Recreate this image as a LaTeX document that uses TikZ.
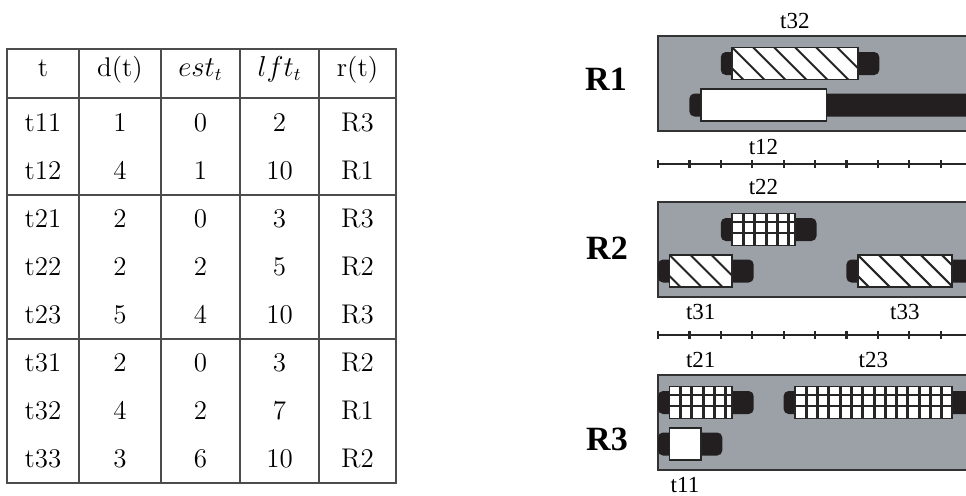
\documentclass[tikz,border=0pt]{standalone}
\usepackage{fontspec}
\newfontfamily\timesfont{Liberation Serif}
\usetikzlibrary{calc}

\definecolor{lanegray}{RGB}{155,161,167}
\definecolor{barblack}{RGB}{35,31,32}

% time axis: origin and width of one time unit
\newcommand{\tzero}{658}
\newcommand{\tunit}{31.4}

% task bar: #1 name, #2 lane top, #3 est, #4 lft, #5 d(t), #6 fill style
\newcommand{\taskbar}[6]{%
  \pgfmathsetmacro{\tbstart}{\tzero+#3*\tunit}
  \pgfmathsetmacro{\tbend}{\tzero+#4*\tunit+1.5}
  \pgfmathsetmacro{\tbbox}{\tbstart+10.5}
  \pgfmathsetmacro{\tbwid}{#5*\tunit*0.5}
  \fill[barblack, rounded corners=2.5pt] (\tbstart,#2+5.5) rectangle (\tbend,#2+28.5);
  \node[taskbox, #6, minimum width=\tbwid pt] (#1) at (\tbbox,#2) {};
}

\begin{document}
\begin{tikzpicture}[x=0.5pt, y=-0.5pt,
    tabline/.style={draw=black!70, line width=0.65pt},
    cell/.style={anchor=base, inner sep=0pt, font=\fontsize{13.5}{16}\selectfont},
    rlab/.style={font=\timesfont\bfseries\fontsize{17}{19}\selectfont},
    tlab/.style={font=\timesfont\fontsize{11.5}{13}\selectfont},
    lane/.style={fill=lanegray, draw=black!80, line width=1pt},
    taskbox/.style={anchor=north west, draw=black!85, fill=white, line width=0.8pt,
      minimum height=16pt, inner sep=0pt},
    hatched/.style={path picture={
      \foreach \k in {-2,...,9}
        \draw[line width=1pt] ($(path picture bounding box.north west)+(\k*21,0)$) -- ++(34,34);
    }},
    gridded/.style={path picture={
      \foreach \k in {1,...,16}
        \draw[line width=1.5pt] ($(path picture bounding box.north west)+(\k*11.3,0)$) -- ++(0,40);
      \foreach \j in {8.5,20}
        \draw[line width=1pt] ($(path picture bounding box.north west)+(0,\j)$) -- ++(200,0);
    }},
    axisline/.style={draw=black!85, line width=0.8pt},
    tickline/.style={draw=black!85, line width=1.1pt}]

  \useasboundingbox (0,0) rectangle (966,495);
  \clip (0,0) rectangle (966,495);

  % ---- table ----
  \draw[tabline] (7,49) rectangle (396,483);
  \foreach \cx in {79,161,240,319}
    \draw[tabline] (\cx,49) -- (\cx,483);
  \foreach \cy in {98,195,339}
    \draw[tabline] (7,\cy) -- (396,\cy);

  \node[cell] (h1) at (43,76.5) {t};
  \node[cell] (h2) at (120,76.5) {d(t)};
  \node[cell] (h3) at (200.5,76.5) {$est_t$};
  \node[cell] (h4) at (279.5,76.5) {$lft_t$};
  \node[cell] (h5) at (357.5,76.5) {r(t)};

  \foreach \r/\a/\b/\c/\d/\e in {1/t11/1/0/2/R3, 2/t12/4/1/10/R1,
      3/t21/2/0/3/R3, 4/t22/2/2/5/R2, 5/t23/5/4/10/R3,
      6/t31/2/0/3/R2, 7/t32/4/2/7/R1, 8/t33/3/6/10/R2} {
    \pgfmathsetmacro{\rowy}{131.7+48*(\r-1)}
    \node[cell] (c\r-1) at (43,\rowy) {\a};
    \node[cell] (c\r-2) at (120,\rowy) {\b};
    \node[cell] (c\r-3) at (200.5,\rowy) {\c};
    \node[cell] (c\r-4) at (279.5,\rowy) {\d};
    \node[cell] (c\r-5) at (357.5,\rowy) {\e};
  }

  % ---- resource lanes ----
  \draw[lane] (658,36) rectangle (990,131);
  \draw[lane] (658,202) rectangle (990,297);
  \draw[lane] (658,375) rectangle (990,470);

  \node[rlab] (r1) at (606,79) {R1};
  \node[rlab] (r2) at (607,248) {R2};
  \node[rlab] (r3) at (607,439) {R3};

  % R1
  \taskbar{t32}{46.5}{2}{7}{4}{hatched}
  \taskbar{t12}{88}{1}{10}{4}{}
  % R2
  \taskbar{t22}{212.5}{2}{5}{2}{gridded}
  \taskbar{t31}{254}{0}{3}{2}{hatched}
  \taskbar{t33}{254}{6}{10}{3}{hatched}
  % R3
  \taskbar{t21}{385.5}{0}{3}{2}{gridded}
  \taskbar{t23}{385.5}{4}{10}{5}{gridded}
  \taskbar{t11}{427}{0}{2}{1}{}

  % task labels
  \node[tlab] (t32lab) at (t32.center |- 0,21) {t32};
  \node[tlab] (t12lab) at (t12.center |- 0,147) {t12};
  \node[tlab] (t22lab) at (t22.center |- 0,187) {t22};
  \node[tlab] (t31lab) at (t31.center |- 0,312) {t31};
  \node[tlab] (t33lab) at (t33.center |- 0,312) {t33};
  \node[tlab] (t21lab) at (t21.center |- 0,360) {t21};
  \node[tlab] (t23lab) at (t23.center |- 0,360) {t23};
  \node[tlab] (t11lab) at (t11.center |- 0,485) {t11};

  % ---- time axes ----
  \foreach \ay in {164,335} {
    \draw[axisline] (\tzero,\ay) -- (990,\ay);
    \foreach \k in {0,...,10}
      \draw[tickline] ({\tzero+\k*\tunit},\ay-4) -- ++(0,8);
  }
\end{tikzpicture}
\end{document}
